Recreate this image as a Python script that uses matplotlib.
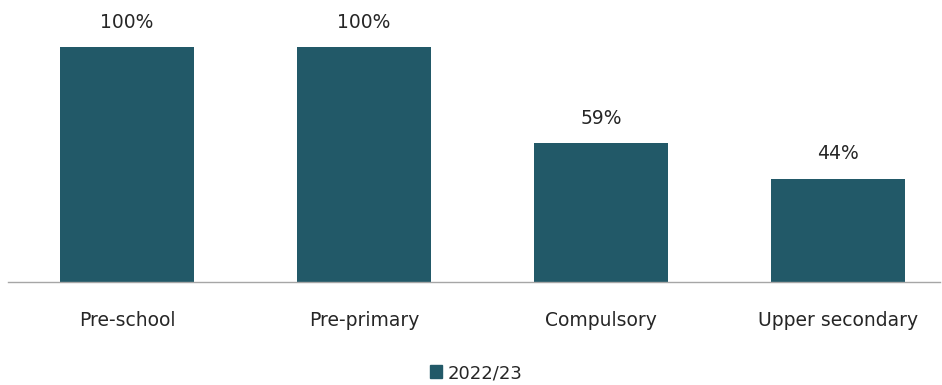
import matplotlib
matplotlib.use("Agg")
import matplotlib.pyplot as plt
from matplotlib.patches import Patch

categories = ["Pre-school", "Pre-primary", "Compulsory", "Upper secondary"]
values = [100, 100, 59, 44]
series_name = "2022/23"

BAR_COLOR = "#225968"
TEXT_COLOR = "#262626"

plt.rcParams['font.family'] = ['DejaVu Sans']

fig = plt.figure(figsize=(9.42, 3.85), dpi=100)
# axes from x=8px to 940px, baseline at y=282px, 100% at y=47px
ax = fig.add_axes([8 / 942, 1 - 282 / 385, 932 / 942, 235 / 385])

x = list(range(len(categories)))
bars = ax.bar(x, values, width=0.566, color=BAR_COLOR, label=series_name)
ax.set_xlim(-0.502, 3.43)
ax.set_ylim(0, 100)

for b, v in zip(bars, values):
    ax.text(b.get_x() + b.get_width() / 2, v + 6.5, f"{v}%", ha="center",
            va="bottom", fontsize=13.5, color=TEXT_COLOR, clip_on=False)

ax.set_xticks(x)
ax.set_xticklabels(categories, fontsize=13.5, color=TEXT_COLOR)
ax.tick_params(axis="x", length=0, pad=21)
ax.set_yticks([])
for side in ["top", "right", "left"]:
    ax.spines[side].set_visible(False)
ax.spines["bottom"].set_color("#a6a6a6")
ax.spines["bottom"].set_linewidth(1)

fig.legend(handles=[Patch(color=BAR_COLOR, label=series_name)],
           loc="center", bbox_to_anchor=(476 / 942, 1 - 373 / 385),
           frameon=False, fontsize=13, handlelength=0.7, handleheight=0.7,
           handletextpad=0.3, labelcolor=TEXT_COLOR)

fig.savefig("out.png", dpi=100)
